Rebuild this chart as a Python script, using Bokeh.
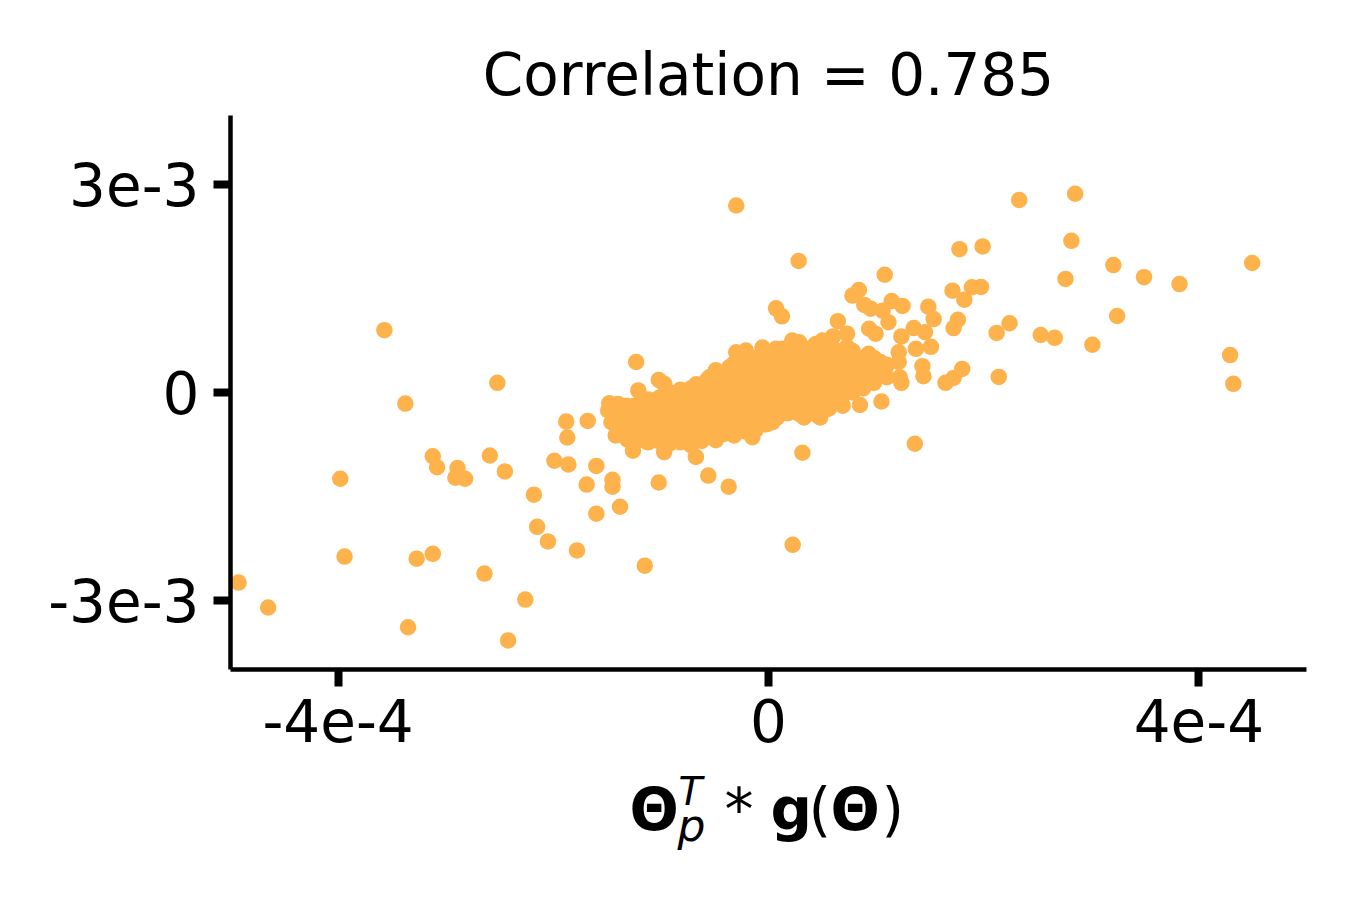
from bokeh.plotting import figure
from bokeh.models import Range1d, FixedTicker, Label
from bokeh.layouts import column
from bokeh.embed import file_html
from bokeh.resources import INLINE

# ---------------- chart data ----------------
title_text = "Correlation = 0.785"
x_ticks = [-4e-4, 0.0, 4e-4]
x_tick_labels = ["-4e-4", "0", "4e-4"]
y_ticks = [-3e-3, 0.0, 3e-3]
y_tick_labels = ["-3e-3", "0", "3e-3"]
x_limits = [-5e-4, 5e-4]
y_limits = [-4e-3, 4e-3]

# scattered points; x in units of 1e-4, y in units of 1e-3
spread_x = [-3.57, -2.52, -3.375, -1.88, -1.68, -1.87, -3.12, -3.08, -2.89, -2.91,
            -2.82, -2.59, -2.45, -1.99, -1.86, -1.60, -1.69, -1.45, -1.45, -3.98,
            -2.18, -2.15, -2.05, -1.78, -1.60, -1.38, -3.94, -3.27, -3.12, -2.64,
            -2.26, -4.925, -4.65, -3.35, -2.42, -1.15, -1.02, -0.56, -0.37, 0.225,
            0.315, 1.36, -0.30, 0.28, 0.07, 0.125, 2.33, 2.85, 2.815, 1.775,
            1.99, 4.495, 3.205, 3.49, 3.82, 2.76, 1.08, 0.84, 0.78, 0.89,
            0.95, 1.145, 1.245, 1.06, 1.115, 1.71, 1.82, 1.89, 1.975, 1.485,
            1.535, 1.76, 1.72, 0.645, 2.24, 2.12, 2.53, 2.66, 3.24, 3.01,
            4.29, 4.32, 2.14, 1.80, 1.72, 1.645, 1.43, 1.44, 1.35, 1.455,
            1.37, 1.51, 1.235, 0.935, 0.995, 1.21, 1.22, 1.235, 1.05, 0.85,
            0.60, 0.73, -1.23, -1.02, -0.97, -1.21, -1.48, -1.40, -1.49, -1.46,
            -1.29, -1.26, -0.97, -0.675, -0.49, -0.32, -0.15, -0.75, -0.49, -0.30,
            -0.21, -0.056, 0.068, -0.89, -1.14, -1.08, 0.69, 0.56, 0.455, 0.50,
            0.44, 0.285, 0.22, 0.13, 1.21, 0.037, 0.33, 0.48, 0.285, -1.32,
            -1.245, -0.83, -0.365, -0.55]
spread_y = [0.90, 0.14, -0.16, -0.42, -0.41, -0.65, -0.92, -1.08, -1.09, -1.23,
            -1.245, -0.91, -1.14, -0.985, -1.04, -1.06, -1.33, -1.26, -1.36, -1.245,
            -1.475, -1.94, -2.15, -2.28, -1.75, -1.65, -2.37, -2.40, -2.33, -2.615,
            -2.99, -2.745, -3.105, -3.39, -3.58, -2.50, -1.30, -1.20, -1.36, -2.20,
            -0.87, -0.74, 2.70, 1.90, 1.215, 1.10, 2.78, 2.87, 2.19, 2.07,
            2.11, 1.87, 1.84, 1.665, 1.565, 1.64, 1.70, 1.48, 1.40, 1.265,
            1.21, 1.32, 1.25, 1.18, 1.015, 1.47, 1.34, 1.52, 1.525, 1.24,
            1.06, 1.05, 0.93, 1.03, 1.00, 0.86, 0.83, 0.79, 1.105, 0.69,
            0.54, 0.125, 0.225, 0.34, 0.21, 0.14, 0.38, 0.235, 0.93, 0.87,
            0.63, 0.66, 0.81, 0.92, 0.85, 0.58, 0.22, 0.14, -0.13, -0.18,
            0.81, 0.85, 0.44, 0.18, 0.125, 0.03, -0.155, -0.165, -0.26, -0.43,
            -0.645, -0.84, -0.86, -0.93, -0.69, -0.62, -0.645, 0.03, 0.32, 0.58,
            0.605, 0.65, 0.63, -0.02, -0.14, -0.165, -0.19, -0.235, -0.33, 0.75,
            0.70, 0.725, 0.75, 0.63, 0.44, -0.43, -0.36, -0.36, -0.31, -0.19,
            -0.19, -0.02, 0.365, 0.22]

# dense central band; x in units of 1e-4, y in units of 1e-3 (estimated)
core_x = [-1.42, -1.42, -1.37, -1.37,
          -1.31, -1.31, -1.31, -1.27, -1.27,
          -1.22, -1.22, -1.22, -1.17, -1.17, -1.17,
          -1.12, -1.12, -1.12, -1.12, -1.07, -1.07, -1.07,
          -1.02, -1.02, -1.02, -1.02, -0.97, -0.97, -0.97,
          -0.92, -0.92, -0.92, -0.92, -0.92, -0.87, -0.87, -0.87, -0.87,
          -0.82, -0.82, -0.82, -0.82, -0.82, -0.77, -0.77, -0.77, -0.77,
          -0.72, -0.72, -0.72, -0.72, -0.72, -0.67, -0.67, -0.67, -0.67, -0.67,
          -0.62, -0.62, -0.62, -0.62, -0.62, -0.57, -0.57, -0.57, -0.57, -0.57,
          -0.52, -0.52, -0.52, -0.52, -0.52, -0.47, -0.47, -0.47, -0.47, -0.47,
          -0.42, -0.42, -0.42, -0.42, -0.42, -0.37, -0.37, -0.37, -0.37, -0.37,
          -0.32, -0.32, -0.32, -0.32, -0.32, -0.32, -0.27, -0.27, -0.27, -0.27, -0.27,
          -0.22, -0.22, -0.22, -0.22, -0.22, -0.22, -0.17, -0.17, -0.17, -0.17, -0.17,
          -0.12, -0.12, -0.12, -0.12, -0.12, -0.12, -0.07, -0.07, -0.07, -0.07, -0.07,
          -0.02, -0.02, -0.02, -0.02, -0.02, -0.02, 0.03, 0.03, 0.03, 0.03, 0.03,
          0.08, 0.08, 0.08, 0.08, 0.08, 0.08, 0.13, 0.13, 0.13, 0.13, 0.13,
          0.18, 0.18, 0.18, 0.18, 0.18, 0.18, 0.23, 0.23, 0.23, 0.23, 0.23,
          0.28, 0.28, 0.28, 0.28, 0.28, 0.33, 0.33, 0.33, 0.33, 0.33,
          0.38, 0.38, 0.38, 0.38, 0.38, 0.43, 0.43, 0.43, 0.43, 0.43,
          0.48, 0.48, 0.48, 0.48, 0.48, 0.53, 0.53, 0.53, 0.53, 0.53,
          0.58, 0.58, 0.58, 0.58, 0.58, 0.63, 0.63, 0.63, 0.63,
          0.68, 0.68, 0.68, 0.68, 0.73, 0.73, 0.73, 0.73,
          0.78, 0.78, 0.78, 0.78, 0.83, 0.83, 0.83,
          0.88, 0.88, 0.88, 0.93, 0.93, 0.93,
          0.98, 0.98, 0.98, 1.04, 1.04, 1.10, 1.10]
core_y = [-0.62, -0.38, -0.50, -0.26,
          -0.68, -0.45, -0.22, -0.57, -0.33,
          -0.70, -0.48, -0.18, -0.60, -0.36, -0.12,
          -0.72, -0.52, -0.30, -0.10, -0.62, -0.42, -0.20,
          -0.70, -0.50, -0.28, -0.08, -0.60, -0.38, -0.15,
          -0.74, -0.55, -0.35, -0.14, 0.00, -0.64, -0.44, -0.24, -0.04,
          -0.72, -0.52, -0.32, -0.12, 0.04, -0.62, -0.42, -0.22, -0.02,
          -0.76, -0.56, -0.36, -0.16, 0.06, -0.66, -0.46, -0.26, -0.06, 0.12,
          -0.70, -0.50, -0.30, -0.10, 0.10, -0.60, -0.40, -0.20, 0.00, 0.18,
          -0.64, -0.44, -0.24, -0.04, 0.16, -0.54, -0.34, -0.14, 0.06, 0.26,
          -0.60, -0.40, -0.20, 0.00, 0.20, -0.50, -0.30, -0.10, 0.10, 0.30,
          -0.56, -0.36, -0.16, 0.04, 0.24, 0.42, -0.46, -0.26, -0.06, 0.14, 0.34,
          -0.56, -0.36, -0.16, 0.04, 0.24, 0.46, -0.46, -0.26, -0.06, 0.14, 0.34,
          -0.54, -0.34, -0.14, 0.06, 0.26, 0.50, -0.44, -0.24, -0.04, 0.16, 0.38,
          -0.46, -0.26, -0.06, 0.14, 0.34, 0.54, -0.36, -0.16, 0.04, 0.24, 0.44,
          -0.36, -0.16, 0.04, 0.24, 0.44, 0.60, -0.26, -0.06, 0.14, 0.34, 0.52,
          -0.30, -0.10, 0.10, 0.30, 0.50, 0.64, -0.20, 0.00, 0.20, 0.40, 0.58,
          -0.24, -0.04, 0.16, 0.36, 0.56, -0.14, 0.06, 0.26, 0.46, 0.64,
          -0.20, 0.00, 0.20, 0.40, 0.60, -0.10, 0.10, 0.30, 0.50, 0.68,
          -0.16, 0.04, 0.24, 0.44, 0.64, -0.06, 0.14, 0.34, 0.54, 0.72,
          -0.10, 0.10, 0.30, 0.50, 0.70, 0.00, 0.20, 0.40, 0.60,
          -0.06, 0.14, 0.34, 0.54, 0.04, 0.24, 0.44, 0.66,
          0.00, 0.20, 0.40, 0.60, 0.10, 0.30, 0.50,
          0.06, 0.26, 0.46, 0.16, 0.36, 0.56,
          0.14, 0.34, 0.50, 0.24, 0.44, 0.22, 0.40]

X_UNIT = 1e-4
Y_UNIT = 1e-3
xs = [v * X_UNIT for v in spread_x + core_x]
ys = [v * Y_UNIT for v in spread_y + core_y]

POINT_COLOR = "#feb24c"
FONT = "DejaVu Sans"

# ---------------- layout ----------------
W = 1330
BL, BT = 230, 115
FRAME_W, FRAME_H = 1076, 554
BR = W - BL - FRAME_W
BB = 97
H_MAIN = BT + FRAME_H + BB
H_LABEL = 880 - H_MAIN

p = figure(width=W, height=H_MAIN, output_backend="svg", toolbar_location=None,
           x_range=Range1d(*x_limits), y_range=Range1d(*y_limits),
           min_border_left=BL, min_border_right=BR,
           min_border_top=BT, min_border_bottom=BB,
           title=title_text)
p.outline_line_color = None
p.xgrid.visible = False
p.ygrid.visible = False
p.background_fill_color = "white"
p.border_fill_color = "white"

p.title.text_font = FONT
p.title.text_font_size = "58px"
p.title.text_font_style = "normal"
p.title.text_color = "black"
p.title.align = "center"
p.title.standoff = 13

for ax, ticks, labels in ((p.xaxis, x_ticks, x_tick_labels), (p.yaxis, y_ticks, y_tick_labels)):
    ax.ticker = FixedTicker(ticks=ticks, minor_ticks=[])
    ax.major_label_overrides = {t: l for t, l in zip(ticks, labels)}
    ax.major_label_text_font = FONT
    ax.major_label_text_font_size = "58px"
    ax.major_label_text_color = "black"
    ax.axis_line_width = 4.5
    ax.axis_line_color = "black"
    ax.major_tick_line_width = 8
    ax.major_tick_line_color = "black"
    ax.major_tick_out = 17
    ax.major_tick_in = 0
    ax.minor_tick_out = 0
    ax.minor_tick_in = 0
p.xaxis.major_label_standoff = 12
p.yaxis.major_label_standoff = 14

p.scatter(xs, ys, size=16.5, fill_color=POINT_COLOR, line_color=None)

# ---------------- x-axis label: a strip below the plot, built from text pieces ----------------
# the strip's frame is aligned with the main frame, so it shares the x range
q = figure(width=W, height=H_LABEL, output_backend="svg", toolbar_location=None,
           x_range=Range1d(*x_limits), y_range=Range1d(0, H_LABEL),
           x_axis_location=None, y_axis_location=None,
           min_border_left=BL, min_border_right=BR,
           min_border_top=0, min_border_bottom=0)
q.outline_line_color = None
q.xgrid.visible = False
q.ygrid.visible = False
q.background_fill_color = "white"
q.border_fill_color = "white"


def page_x_to_data(px):
    return x_limits[0] + (px - BL) / FRAME_W * (x_limits[1] - x_limits[0])


BASELINE_SHIFT = 0.414  # measured render offset of the baseline, in em

# (text, left x on page, baseline y on page, size in px, style)
pieces = [
    ("\u0398", 629, 834, 58, "bold"),
    ("T", 678, 807, 39, "italic"),
    ("p", 677, 843, 44, "italic"),
    ("*", 724, 834, 58, "normal"),
    ("g", 770, 834, 58, "bold"),
    ("(", 808, 834, 58, "normal"),
    ("\u0398", 830, 834, 58, "bold"),
    (")", 881, 834, 58, "normal"),
]
for txt, px, py, fs, st in pieces:
    target = py - BASELINE_SHIFT * fs
    q.add_layout(Label(x=page_x_to_data(px), y=H_LABEL - (target - H_MAIN), text=txt,
                       text_font=FONT, text_font_size=f"{fs}px", text_font_style=st,
                       text_color="black", text_align="left", text_baseline="alphabetic"))

layout = column(p, q, spacing=0)
open("out.html", "w").write(file_html(layout, INLINE))
